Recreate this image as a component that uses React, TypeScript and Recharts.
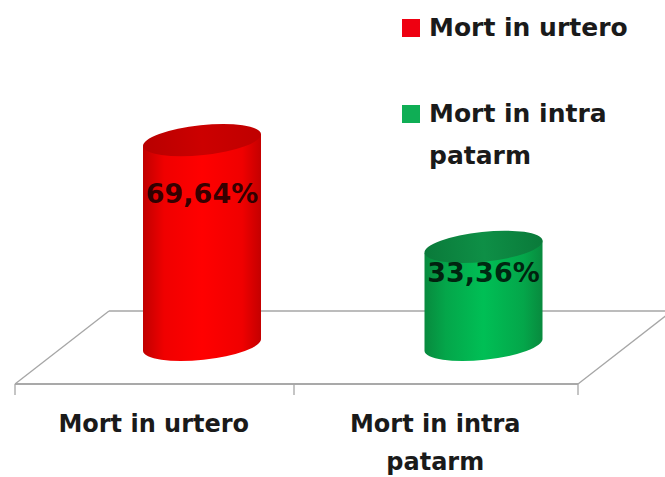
import { BarChart, Bar, XAxis, YAxis, Cell, LabelList, usePlotArea } from 'recharts';

const categories = ['Mort in urtero', 'Mort in intra patarm'];
const values = [69.64, 33.36];
const tickLines = [['Mort in urtero'], ['Mort in intra', 'patarm']];
const legendLines = [['Mort in urtero'], ['Mort in intra', 'patarm']];
const swatchColors = ['#ee0011', '#0fae55'];

const chartData = categories.map((name, i) => ({ name, value: values[i] }));

const FONT = '"DejaVu Sans", sans-serif';
const DEPTH_X = 94;
const DEPTH_Y = 73;
const BAR_SHIFT = 46; // bars stand in the middle of the floor depth
const TILT = 6;

const Floor = () => {
  const plot = usePlotArea();
  if (!plot) return null;
  const left = plot.x;
  const right = plot.x + plot.width;
  const bottom = plot.y + plot.height;
  const mid = left + 279;
  return (
    <g stroke="#a6a6a6" strokeWidth={1.3} fill="none">
      <line x1={left} y1={bottom} x2={right} y2={bottom} stroke="#8c8c8c" />
      <line x1={left} y1={bottom} x2={left + DEPTH_X} y2={bottom - DEPTH_Y} />
      <line x1={left + DEPTH_X} y1={bottom - DEPTH_Y} x2={665} y2={bottom - DEPTH_Y} />
      <line x1={right} y1={bottom} x2={right + DEPTH_X} y2={bottom - DEPTH_Y} />
      {[left, mid, right].map((x) => (
        <line key={x} x1={x} y1={bottom} x2={x} y2={bottom + 11} />
      ))}
    </g>
  );
};

const Cylinder = ({ x, y, width, height, index }: any) => {
  const cx = x + width / 2 + BAR_SHIFT;
  const dx = width / 2;
  const dy = dx * Math.tan((TILT * Math.PI) / 180);
  const rx = dx / Math.cos((TILT * Math.PI) / 180);
  const ry = 15;
  const bottom = y + height;
  const body = `M ${cx - dx} ${y + dy} L ${cx - dx} ${bottom + dy} A ${rx} ${ry} ${-TILT} 0 0 ${cx + dx} ${bottom - dy} L ${cx + dx} ${y - dy} Z`;
  return (
    <g>
      <path d={body} fill={`url(#body${index})`} />
      <ellipse cx={cx} cy={y} rx={rx} ry={ry} fill={`url(#top${index})`} transform={`rotate(${-TILT} ${cx} ${y})`} />
    </g>
  );
};

const ValueLabel = ({ x, y, width, height, value }: any) => (
  <text
    x={x + width / 2 + BAR_SHIFT}
    y={y + height * 0.26}
    textAnchor="middle"
    dominantBaseline="central"
    fontFamily={FONT}
    fontWeight="bold"
    fontSize={27}
    fill="#000"
    fillOpacity={0.8}
  >
    {`${Number(value).toFixed(2).replace('.', ',')}%`}
  </text>
);

const CategoryTick = ({ x, y, index }: any) => (
  <text textAnchor="middle" fontFamily={FONT} fontWeight="bold" fontSize={24} fill="#1a1a1a">
    {tickLines[index].map((line, i) => (
      <tspan key={line} x={x - 2} y={y + 40 + i * 38}>
        {line}
      </tspan>
    ))}
  </text>
);

const LegendBox = () => (
  <div style={{ position: 'absolute', left: 402, top: 7, fontFamily: FONT, fontWeight: 'bold', fontSize: 25, color: '#1a1a1a' }}>
    {legendLines.map((lines, i) => (
      <div key={i} style={{ position: 'relative', paddingLeft: 27, lineHeight: '42px', marginBottom: i === 0 ? 44 : 0, whiteSpace: 'nowrap' }}>
        <span style={{ position: 'absolute', left: 0, top: 12, width: 18, height: 18, background: swatchColors[i] }} />
        {lines.map((line) => (
          <div key={line}>{line}</div>
        ))}
      </div>
    ))}
  </div>
);

export default function App() {
  return (
    <div style={{ position: 'absolute', left: 0, top: 0, width: 665, height: 477, background: '#fff', overflow: 'hidden' }}>
      <BarChart width={665} height={477} data={chartData} margin={{ top: 0, right: 87, bottom: 0, left: 15 }}>
        <defs>
          <linearGradient id="body0" x1="0" y1="0" x2="1" y2="0">
            <stop offset="0" stopColor="#c00000" />
            <stop offset="0.18" stopColor="#f00000" />
            <stop offset="0.5" stopColor="#ff0000" />
            <stop offset="0.84" stopColor="#f00000" />
            <stop offset="1" stopColor="#c40000" />
          </linearGradient>
          <linearGradient id="top0" x1="0" y1="0" x2="1" y2="0">
            <stop offset="0" stopColor="#b80000" />
            <stop offset="0.5" stopColor="#cc0000" />
            <stop offset="1" stopColor="#bf0000" />
          </linearGradient>
          <linearGradient id="body1" x1="0" y1="0" x2="1" y2="0">
            <stop offset="0" stopColor="#088a3e" />
            <stop offset="0.18" stopColor="#04a64a" />
            <stop offset="0.5" stopColor="#00bf55" />
            <stop offset="0.84" stopColor="#04a64a" />
            <stop offset="1" stopColor="#088a3e" />
          </linearGradient>
          <linearGradient id="top1" x1="0" y1="0" x2="1" y2="0">
            <stop offset="0" stopColor="#0a7a3a" />
            <stop offset="0.5" stopColor="#0e8f46" />
            <stop offset="1" stopColor="#0a7a3a" />
          </linearGradient>
        </defs>
        <XAxis dataKey="name" axisLine={false} tickLine={false} tick={<CategoryTick />} height={93} interval={0} />
        <YAxis hide domain={[-13.3, 117.3]} allowDataOverflow />
        <Floor />
        <Bar dataKey="value" barSize={118} shape={<Cylinder />} isAnimationActive={false}>
          {chartData.map((entry, i) => (
            <Cell key={entry.name} fill={swatchColors[i]} />
          ))}
          <LabelList dataKey="value" content={<ValueLabel />} />
        </Bar>
      </BarChart>
      <LegendBox />
    </div>
  );
}
